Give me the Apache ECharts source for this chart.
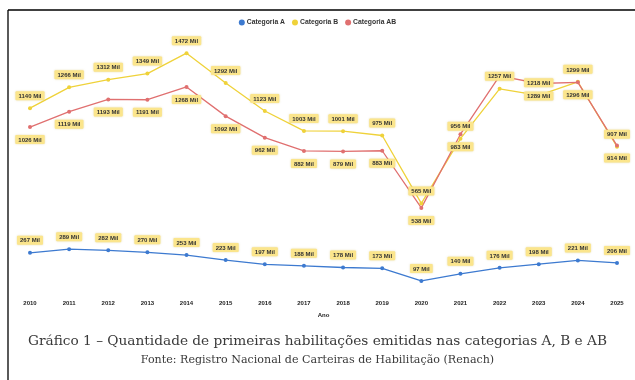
<!DOCTYPE html>
<html><head><meta charset="utf-8">
<script src="https://cdn.jsdelivr.net/npm/echarts@6/dist/echarts.min.js"></script>
<style>html,body{margin:0;padding:0;background:#fff}#c{width:635px;height:380px}</style>
</head><body><div id="c"></div>
<script>
const years = ['2010','2011','2012','2013','2014','2015','2016','2017','2018','2019','2020','2021','2022','2023','2024','2025'];
const catA  = [267,289,282,270,253,223,197,188,178,173,97,140,176,198,221,206];
const catB  = [1140,1266,1312,1349,1472,1292,1123,1003,1001,975,565,956,1257,1218,1299,907];
const catAB = [1026,1119,1193,1191,1268,1092,962,882,879,883,538,983,1335,1289,1296,914];
const hiddenAB = ['2022'];

const chart = echarts.init(document.getElementById('c'));
const lbl = (pos) => ({
  show: true, position: pos, distance: 6,
  formatter: p => p.value + ' Mil',
  fontSize: 6, fontWeight: 'bold', color: '#333', fontFamily: 'Liberation Sans',
  backgroundColor: '#fbe58c', padding: [2, 3, 1, 3], borderRadius: 1,
  shadowColor: 'rgba(180,150,0,0.35)', shadowBlur: 2
});
chart.setOption({
  animation: false,
  legend: {
    top: 14, left: 'center', itemWidth: 6, itemHeight: 6, itemGap: 7,
    icon: 'circle',
    textStyle: { fontSize: 6.8, fontWeight: 'bold', color: '#333', fontFamily: 'Liberation Sans', padding: [0,0,0,-3] }
  },
  grid: { left: 30, right: 18, top: 32, bottom: 83 },
  xAxis: {
    type: 'category', data: years, boundaryGap: false,
    name: 'Ano', nameLocation: 'middle', nameGap: 15,
    nameTextStyle: { fontSize: 6, fontWeight: 'bold', color: '#222', fontFamily: 'Liberation Sans' },
    axisLine: { show: false }, axisTick: { show: false },
    axisLabel: { fontSize: 6, fontWeight: 'bold', color: '#222', margin: 3, fontFamily: 'Liberation Sans' }
  },
  yAxis: { type: 'value', min: 0, max: 1600, show: false, splitLine: { show: false } },
  series: [
    { name: 'Categoria A', type: 'line', data: catA, color: '#3d7ad0',
      symbol: 'circle', symbolSize: 4, lineStyle: { width: 1.3 }, label: lbl('top') },
    { name: 'Categoria B', type: 'line', data: catB, color: '#efd23a',
      symbol: 'circle', symbolSize: 4, lineStyle: { width: 1.3 }, label: lbl('top') },
    { name: 'Categoria AB', type: 'line', color: '#e07070',
      data: catAB.map((v, i) => hiddenAB.includes(years[i]) ? { value: v, label: { show: false } } : v),
      symbol: 'circle', symbolSize: 4, lineStyle: { width: 1.3 }, label: lbl('bottom') }
  ],
  graphic: [
    { type: 'line', shape: { x1: 8, y1: 10, x2: 635, y2: 10 }, style: { stroke: '#000', lineWidth: 1.3 } },
    { type: 'line', shape: { x1: 8, y1: 10, x2: 8, y2: 380 }, style: { stroke: '#000', lineWidth: 1.3 } },
    { type: 'text', left: 'center', top: 334, style: {
      text: 'Gráfico 1 – Quantidade de primeiras habilitações emitidas nas categorias A, B e AB',
      font: '13.7px "DejaVu Serif"', fill: '#3a3a3a' } },
    { type: 'text', left: 'center', top: 355, style: {
      text: 'Fonte: Registro Nacional de Carteiras de Habilitação (Renach)',
      font: '11.1px "DejaVu Serif"', fill: '#3a3a3a' } }
  ]
});
</script></body></html>
